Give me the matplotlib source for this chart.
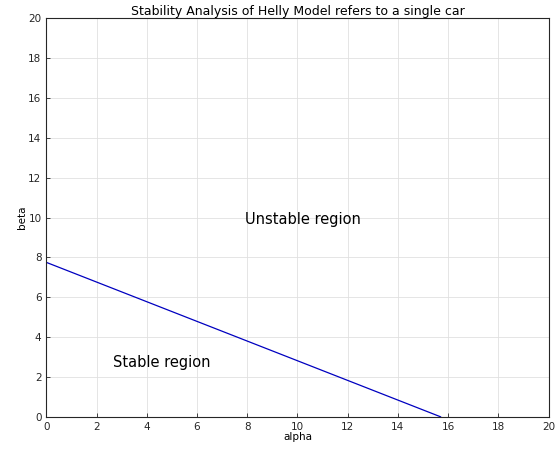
import matplotlib
matplotlib.use("Agg")
import matplotlib.pyplot as plt

plt.rcParams["font.family"] = ["DejaVu Sans"]

# boundary line: beta = f(alpha)
alpha_pts = [0.0, 15.7]
beta_pts = [7.75, 0.0]

ticks = list(range(0, 21, 2))

fig = plt.figure(figsize=(5.58, 4.57), dpi=100)
ax = fig.add_axes([0.083, 0.088, 0.900, 0.872])

ax.plot(alpha_pts, beta_pts, color="#0000c0", linewidth=0.9)

ax.set_xlim(0, 20)
ax.set_ylim(0, 20)
ax.set_xticks(ticks)
ax.set_yticks(ticks)
ax.tick_params(labelsize=7.5, colors="#262626", direction="in", length=3, width=0.6)
ax.grid(True, color="#e0e0e0", linewidth=0.6)
for s in ax.spines.values():
    s.set_linewidth(0.8)
    s.set_color("#262626")

ax.set_xlabel("alpha", fontsize=7.5, labelpad=0)
ax.set_ylabel("beta", fontsize=7.5, labelpad=1)
ax.set_title("Stability Analysis of Helly Model refers to a single car", fontsize=9, pad=2)

ax.text(7.9, 9.9, "Unstable region", fontsize=10.5, va="center")
ax.text(2.65, 2.7, "Stable region", fontsize=10.5, va="center")

fig.savefig("out.png", dpi=100)
